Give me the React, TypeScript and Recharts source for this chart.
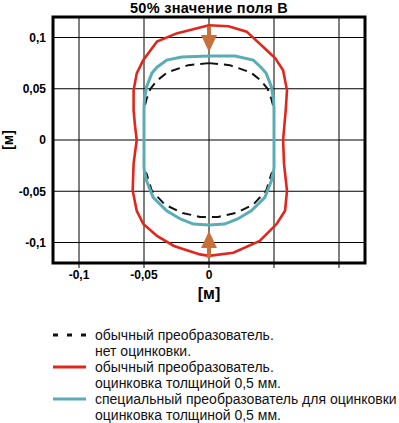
import { ComposedChart, Line, Scatter, XAxis, YAxis, CartesianGrid, ReferenceArea } from "recharts";

const xTicks = [-0.1, -0.05, 0, 0.05, 0.1];
const yTicks = [-0.1, -0.05, 0, 0.05, 0.1];
const labeledX = [-0.1, -0.05, 0];

// обычный преобразователь, нет оцинковки (пунктир)
const plainX = [0, 0.016, 0.032, 0.04, 0.045, 0.048, 0.05, 0.05, 0.048, 0.044, 0.034, 0.021, 0.007, 0, -0.007, -0.021, -0.034, -0.044, -0.048, -0.05, -0.05, -0.048, -0.045, -0.04, -0.032, -0.016, 0];
const plainY = [0.075, 0.073, 0.066, 0.058, 0.05, 0.04, 0.03, -0.03, -0.033, -0.0495, -0.063, -0.071, -0.075, -0.075, -0.075, -0.071, -0.063, -0.0495, -0.033, -0.03, 0.03, 0.04, 0.05, 0.058, 0.066, 0.073, 0.075];

// обычный преобразователь, оцинковка 0,5 мм (красный)
const zincX = [0, 0.015, 0.029, 0.044, 0.051, 0.057, 0.06, 0.059, 0.057, 0.0577, 0.06, 0.0585, 0.052, 0.039, 0.0187, 0, -0.007, -0.027, -0.04, -0.0505, -0.0556, -0.0587, -0.058, -0.0556, -0.057, -0.058, -0.058, -0.0556, -0.0505, -0.04, -0.025, 0];
const zincY = [0.112, 0.111, 0.1057, 0.088, 0.0796, 0.068, 0.0485, 0.029, 0, -0.0233, -0.0495, -0.069, -0.082, -0.0985, -0.11, -0.113, -0.1116, -0.1034, -0.0936, -0.082, -0.069, -0.0495, -0.023, 0, 0.015, 0.029, 0.0485, 0.065, 0.078, 0.096, 0.104, 0.112];

// специальный преобразователь, оцинковка 0,5 мм (бирюзовый)
const specialX = [0, 0.02, 0.034, 0.04, 0.044, 0.048, 0.0497, 0.05, 0.05, 0.0497, 0.048, 0.043, 0.0325, 0.022, 0.012, 0, -0.012, -0.022, -0.0325, -0.043, -0.048, -0.0497, -0.05, -0.05, -0.0497, -0.048, -0.044, -0.04, -0.0325, -0.021, 0];
const specialY = [0.082, 0.082, 0.078, 0.071, 0.065, 0.052, 0.039, 0.03, -0.027, -0.03, -0.0397, -0.056, -0.069, -0.077, -0.082, -0.083, -0.082, -0.077, -0.069, -0.056, -0.0397, -0.03, -0.027, 0.03, 0.039, 0.052, 0.065, 0.071, 0.078, 0.081, 0.082];

const arrowTopY = [0.111, 0.09];
const arrowBottomY = [-0.115, -0.093];
const arrowTips = [{ x: 0, y: 0.0858, dir: "down" }, { x: 0, y: -0.0887, dir: "up" }];

const legendItems = [
  { kind: "dash", color: "#111", lines: ["обычный преобразователь.", "нет оцинковки."] },
  { kind: "solid", color: "#e2261c", lines: ["обычный преобразователь.", "оцинковка толщиной 0,5 мм."] },
  { kind: "solid", color: "#5aadb5", lines: ["специальный преобразователь для оцинковки", "оцинковка толщиной 0,5 мм."] },
];

const toPoints = (xs: number[], ys: number[]) => xs.map((x, i) => ({ x, y: ys[i] }));

const plain = toPoints(plainX, plainY);
const zinc = toPoints(zincX, zincY);
const special = toPoints(specialX, specialY);
const arrowTop = arrowTopY.map((y) => ({ x: 0, y }));
const arrowBottom = arrowBottomY.map((y) => ({ x: 0, y }));

const ARROW = "#c8703a";
const fmt = (v: number) => String(v).replace(".", ",");
const tickStyle = { fontFamily: "Liberation Sans, Arial", fontSize: 12, fontWeight: 700, fill: "#000" };

function ArrowHead(props: any) {
  const { cx, cy, payload } = props;
  const h = 17, w = 8;
  const b = payload.dir === "down" ? cy - h : cy + h;
  return <polygon points={`${cx},${cy} ${cx - w},${b} ${cx + w},${b}`} fill={ARROW} />;
}

export default function App() {
  return (
    <div style={{ position: "relative", width: 399, height: 423, fontFamily: "Liberation Sans, Arial" }}>
      <style>{"body{margin:0}"}</style>
      <div style={{ position: "absolute", top: 0, left: 0, width: 418, textAlign: "center", fontSize: 14.5, fontWeight: 700, lineHeight: "16px", letterSpacing: 0.3 }}>
        50% значение поля B
      </div>
      <ComposedChart width={399} height={423} margin={{ top: 17, right: 34, left: 3, bottom: 120 }}>
        <CartesianGrid stroke="#000" strokeWidth={1} />
        <XAxis
          type="number" dataKey="x" domain={[-0.12, 0.12]} ticks={xTicks} allowDataOverflow
          axisLine={false} tickSize={5} tickLine={{ stroke: "#000" }} tick={tickStyle} height={40}
          tickFormatter={(v: number) => (labeledX.includes(v) ? fmt(v) : "")}
          label={{ value: "[м]", position: "insideBottom", offset: 4, style: { fontFamily: "Liberation Sans, Arial", fontSize: 16, fontWeight: 700, fill: "#000" } }}
        />
        <YAxis
          type="number" dataKey="y" domain={[-0.12, 0.12]} ticks={yTicks} allowDataOverflow
          axisLine={false} tickLine={false} tickSize={5} tick={tickStyle} width={50} tickFormatter={fmt}
          label={{ value: "[м]", angle: -90, position: "insideLeft", offset: 5, style: { textAnchor: "middle", fontFamily: "Liberation Sans, Arial", fontSize: 14, fontWeight: 700, fill: "#000" } }}
        />
        <ReferenceArea x1={-0.12} x2={0.12} y1={-0.12} y2={0.12} fill="none" fillOpacity={0} stroke="#000" strokeWidth={3} />
        <Line data={zinc} dataKey="y" type="linear" stroke="#e2261c" strokeWidth={2.6} dot={false} isAnimationActive={false} />
        <Line data={plain} dataKey="y" type="linear" stroke="#111" strokeWidth={2} strokeDasharray="9 6" dot={false} isAnimationActive={false} />
        <Line data={special} dataKey="y" type="linear" stroke="#5aadb5" strokeWidth={3} dot={false} isAnimationActive={false} />
        <Line data={arrowTop} dataKey="y" stroke={ARROW} strokeWidth={4} dot={false} isAnimationActive={false} />
        <Line data={arrowBottom} dataKey="y" stroke={ARROW} strokeWidth={4} dot={false} isAnimationActive={false} />
        <Scatter data={arrowTips} dataKey="y" shape={ArrowHead} isAnimationActive={false} />
      </ComposedChart>
      <div style={{ position: "absolute", left: 0, top: 327, fontSize: 14, lineHeight: "16px", color: "#111" }}>
        {legendItems.map((it, i) => (
          <div key={i} style={{ display: "flex" }}>
            <svg width={95} height={16} style={{ flex: "none" }}>
              <line x1={53} x2={86} y1={8} y2={8} stroke={it.color} strokeWidth={3} strokeDasharray={it.kind === "dash" ? "5 9" : undefined} />
            </svg>
            <div style={{ whiteSpace: "nowrap" }}>
              {it.lines.map((l) => <div key={l}>{l}</div>)}
            </div>
          </div>
        ))}
      </div>
    </div>
  );
}
